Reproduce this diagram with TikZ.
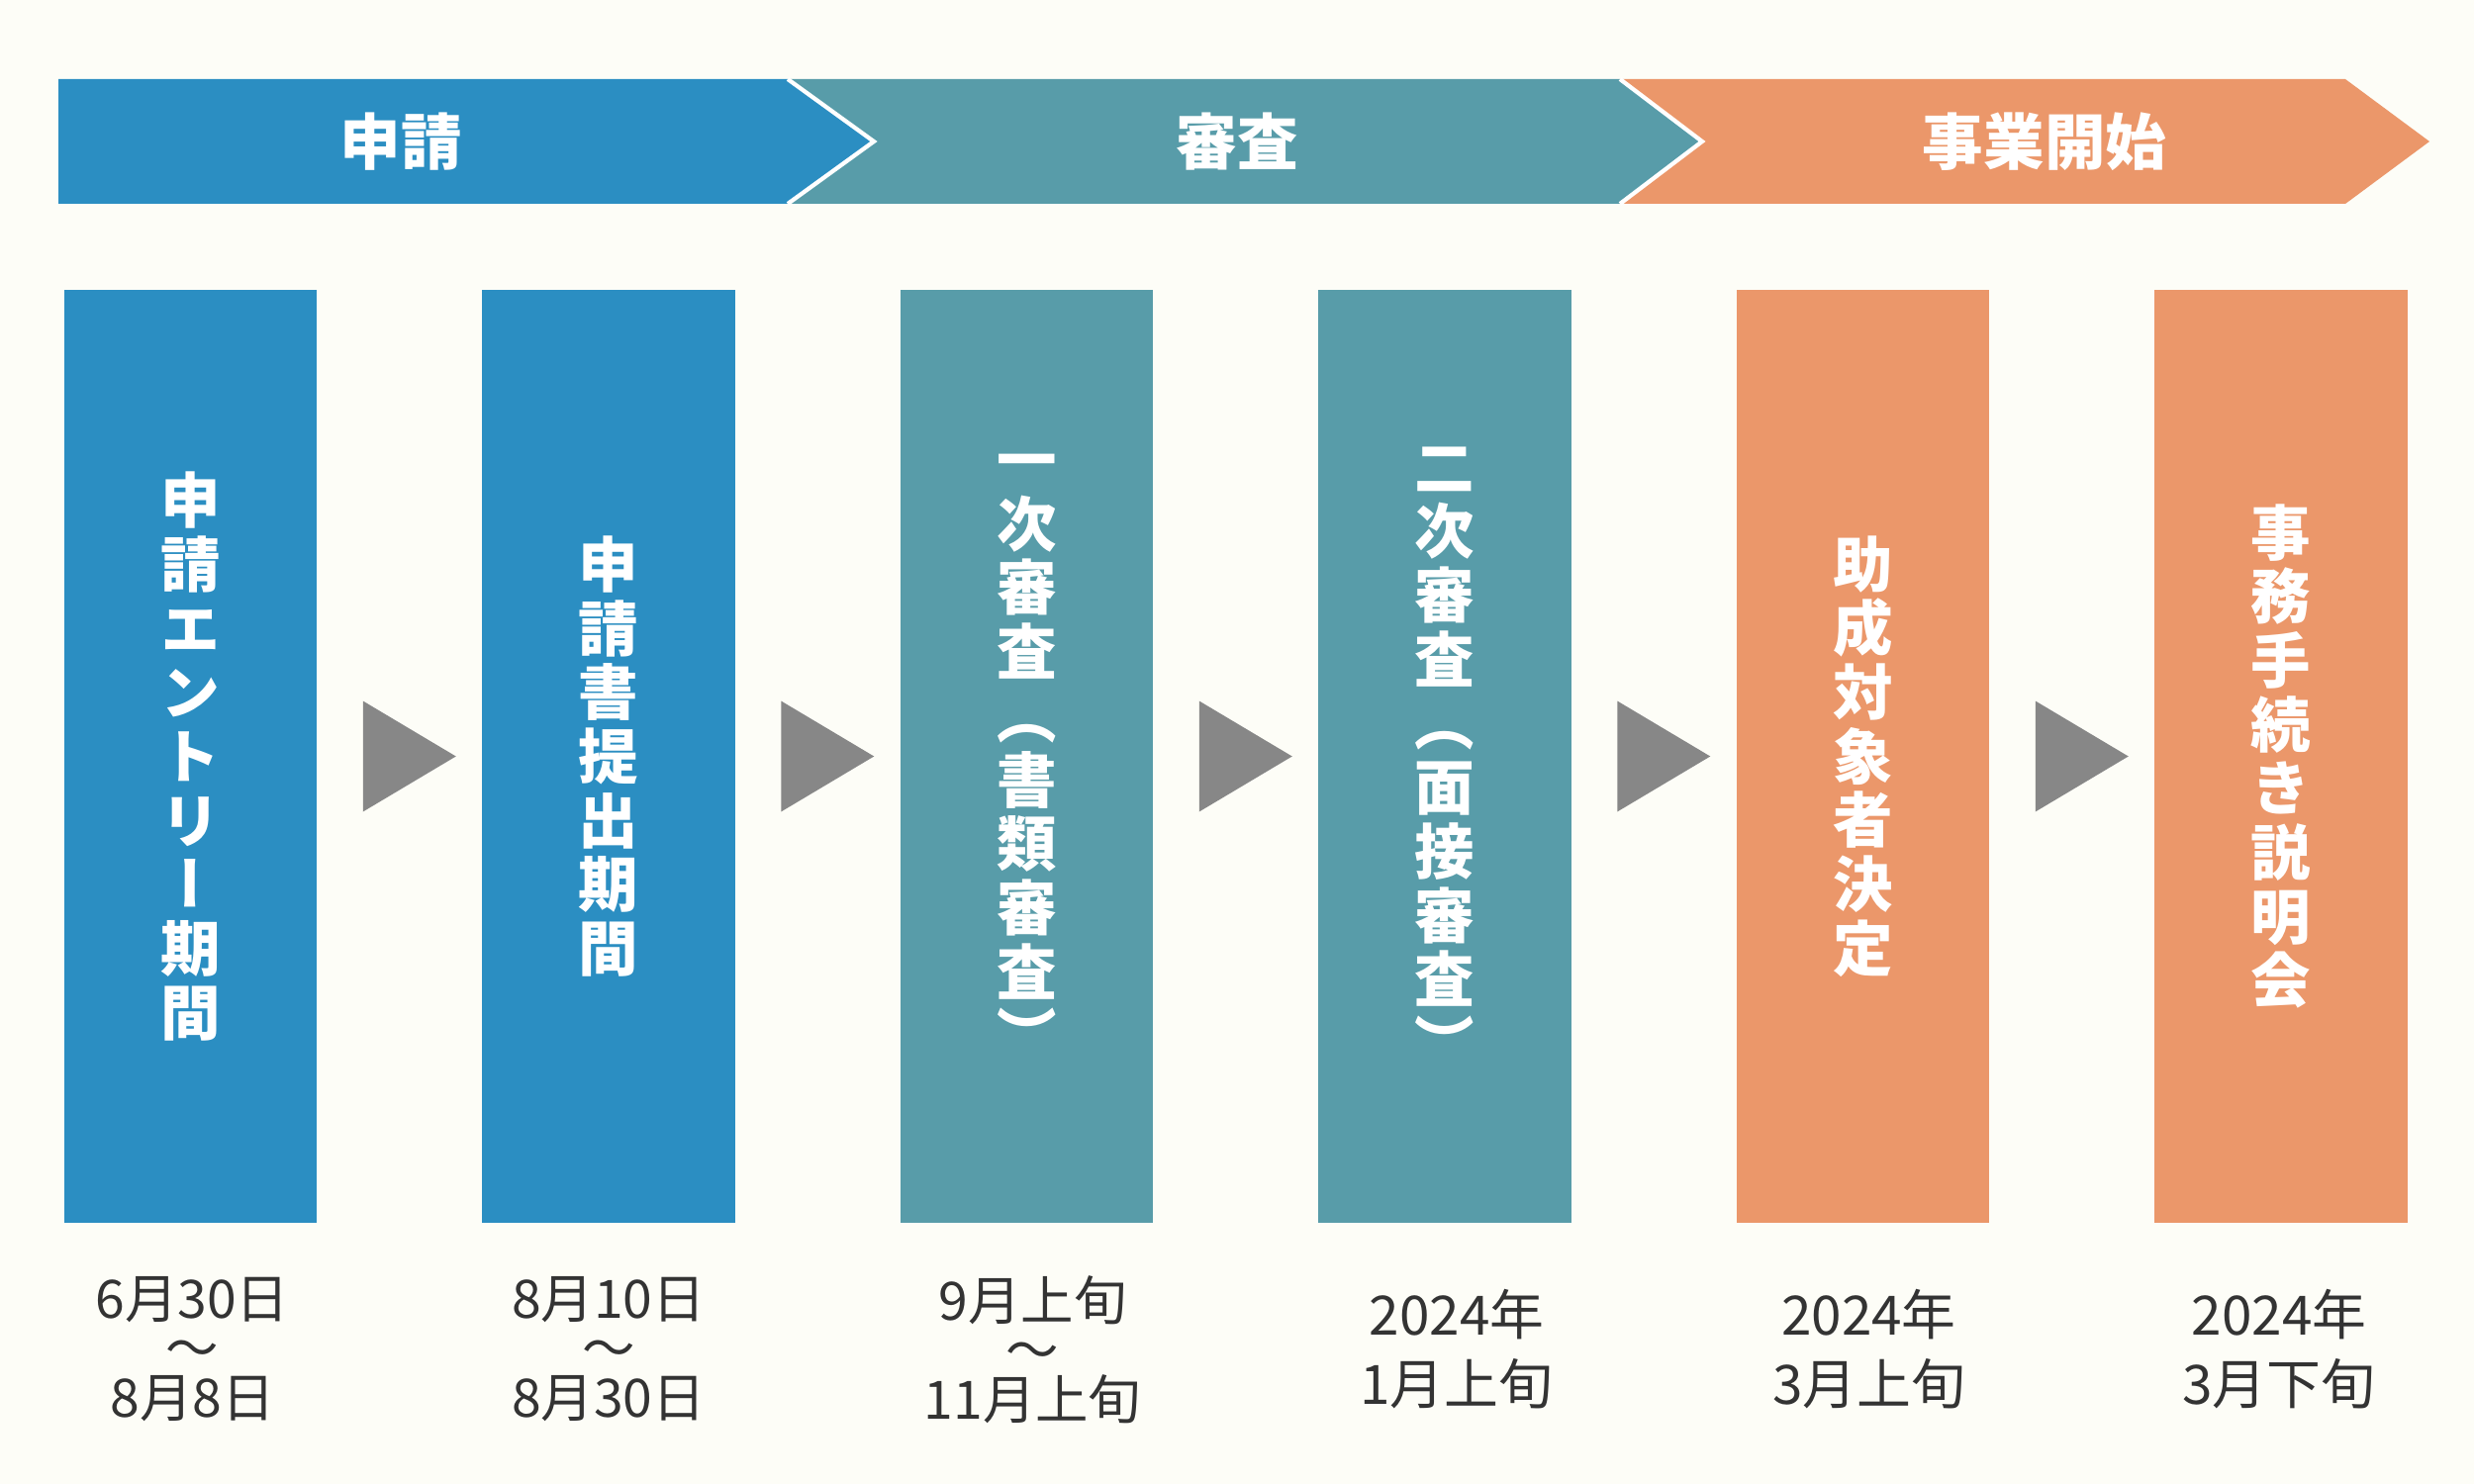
\documentclass[tikz,border=0pt]{standalone}
\usepackage{fontspec}
\usepackage{graphicx}
\usetikzlibrary{calc}
\newfontfamily\jp{Noto Sans CJK JP}
\newfontfamily\jpv[RawFeature=+vert]{Noto Sans CJK JP}
\definecolor{bgc}{HTML}{FDFDF7}
\definecolor{bluec}{HTML}{2B8EC2}
\definecolor{tealc}{HTML}{589CA9}
\definecolor{orangec}{HTML}{EB976A}
\definecolor{arrowgray}{HTML}{878787}
\definecolor{datec}{HTML}{333333}
\newcommand\colfont{\jpv\bfseries\fontsize{17.2}{18.4}\selectfont\lineskiplimit=-30pt\relax}
\newcommand\bannerfont{\jp\bfseries\fontsize{17.5}{20}\selectfont}
\newcommand\datefontA{\jp\fontsize{15.2}{14.2}\selectfont\lineskiplimit=-30pt\relax}
\newcommand\datefontB{\jp\fontsize{15.6}{19.9}\selectfont\lineskiplimit=-30pt\relax}
\tikzset{
  colbox/.style={minimum width=2.55cm, minimum height=9.43cm, inner sep=0pt,
    align=center, text=white, font=\colfont},
  bannertext/.style={text=white, font=\bannerfont, inner sep=0pt},
  datethree/.style={text=datec, align=center, font=\datefontA, inner sep=0pt},
  datetwo/.style={text=datec, align=center, font=\datefontB, inner sep=0pt},
  tipline/.style={draw=white, line width=1.2pt, line join=miter},
}
\begin{document}
\begin{tikzpicture}[x=0.01cm, y=-0.01cm]
\fill[bgc] (0,0) rectangle (2500,1500);
\useasboundingbox (0,0) rectangle (2500,1500);

% banner chevrons (drawn right to left so each tip overlaps the next)
\fill[orangec] (1637,80) -- (2370,80) -- (2455,143) -- (2370,206) -- (1637,206) -- cycle;
\fill[tealc] (796,80) -- (1637,80) -- (1720,143) -- (1637,206) -- (796,206) -- cycle;
\draw[tipline] (1637,80) -- (1720,143) -- (1637,206);
\fill[bluec] (59,80) -- (796,80) -- (883,143) -- (796,206) -- (59,206) -- cycle;
\draw[tipline] (796,80) -- (883,143) -- (796,206);

\node[bannertext] (b1) at (405,143) {申請};
\node[bannertext] (b2) at (1250,143) {審査};
\node[bannertext] (b3) at (2066,143) {事業開始};

% columns
\node[colbox, fill=bluec] (c1) at (192.5,764.5) {申\\請\\エ\\ン\\ト\\リ\\ー\\期\\間};
\node[colbox, fill=bluec] (c2) at (615,764.5) {申\\請\\書\\提\\出\\期\\間};
\node[colbox, fill=tealc] (c3) at (1037.5,764.5) {一\\次\\審\\査\\（\\書\\類\\審\\査\\）};
\node[colbox, fill=tealc] (c4) at (1460,764.5) {二\\次\\審\\査\\（\\面\\接\\審\\査\\）};
\node[colbox, fill=orangec] (c5) at (1882.5,764.5) {助\\成\\対\\象\\者\\決\\定};
\node[colbox, fill=orangec] (c6) at (2305,764.5) {事\\務\\手\\続\\き\\説\\明\\会};

% arrows between columns
\foreach \a/\b in {c1/c2,c2/c3,c3/c4,c4/c5,c5/c6}
  \fill[arrowgray] ($(\a.east)!.5!(\b.west)$) ++(-37,-56) -- ++(94,56) -- ++(-94,56) -- cycle;

% dates
\node[datethree] (d1) at ($(c1.south)+(2,127)$) {6月30日\\〜\\8月8日};
\node[datethree] (d2) at ($(c2.south)+(0,127)$) {8月10日\\〜\\8月30日};
\node[datethree] (d3) at ($(c3.south)+(6,127)$) {9月上旬\\〜\\11月上旬};
\node[datetwo] (d4) at ($(c4.south)+(12,127)$) {2024年\\1月上旬};
\node[datetwo] (d5) at ($(c5.south)+(6,127)$) {2024年\\3月上旬};
\node[datetwo] (d6) at ($(c6.south)+(-2,127)$) {2024年\\3月下旬};
\end{tikzpicture}
\end{document}
